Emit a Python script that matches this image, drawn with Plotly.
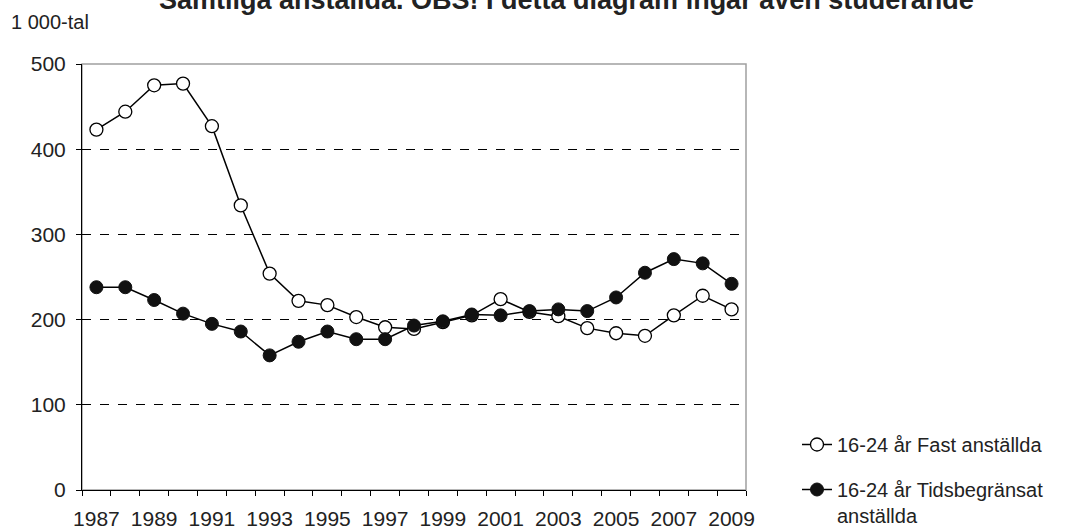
import plotly.graph_objects as go

years = list(range(1987, 2010))
fast = [423, 444, 475, 477, 427, 334, 254, 222, 217, 203, 191, 189, 197, 205, 224, 209, 204, 190, 184, 181, 205, 228, 212]
tids = [238, 238, 223, 207, 195, 186, 158, 174, 186, 177, 177, 193, 198, 206, 205, 210, 212, 210, 226, 255, 271, 266, 242]
tick_years = list(range(1987, 2010, 2))
y_ticks = [0, 100, 200, 300, 400, 500]

L, R, T, B = 82, 324, 64, 39
W, H = 1070, 529
pw, ph = W - L - R, H - T - B

fig = go.Figure()
fig.add_trace(go.Scatter(
    x=years, y=fast, mode="lines+markers", name="16-24 år Fast anställda", legendgroup="a",
    line=dict(color="black", width=1.5),
    marker=dict(symbol="circle", size=13, color="white", line=dict(color="black", width=1.3)),
))
fig.add_trace(go.Scatter(
    x=years, y=tids, mode="lines+markers", name="16-24 år Tidsbegränsat<br>anställda", legendgroup="b",
    line=dict(color="black", width=1.5),
    marker=dict(symbol="circle", size=13, color="#111111", line=dict(color="#111111", width=1)),
))

fig.add_shape(type="rect", xref="paper", yref="paper", x0=0, x1=1, y0=0, y1=1,
              line=dict(color="#a0a0a0", width=1.5), layer="below")

fig.update_layout(
    width=W, height=H,
    margin=dict(l=L, r=R, t=T, b=B, autoexpand=False),
    plot_bgcolor="white", paper_bgcolor="white",
    font=dict(family="Liberation Sans, Arial, sans-serif", size=20, color="#222222"),
    showlegend=True,
    legend=dict(x=(797 - L) / pw, y=(490 - 425) / ph, xanchor="left", yanchor="top",
                font=dict(size=20, color="#222222"), tracegroupgap=16, valign="top",
                bgcolor="rgba(0,0,0,0)"),
    xaxis=dict(range=[1986.5, 2009.5], tickvals=tick_years, ticktext=[str(y) for y in tick_years],
               ticks="", showgrid=False, zeroline=False, showline=True, linecolor="black", linewidth=1,
               tickfont=dict(size=21), ticklabelstandoff=10, automargin=False,
               minor=dict(tick0=1986.5, dtick=1, ticks="outside", ticklen=5, tickcolor="black", showgrid=False)),
    yaxis=dict(range=[0, 500], tickvals=y_ticks, ticks="outside", ticklen=5, tickcolor="black",
               showgrid=True, gridcolor="black", gridwidth=1, griddash="dash", automargin=False,
               zeroline=False, showline=True, linecolor="black", linewidth=1,
               tickfont=dict(size=21), ticklabelstandoff=6),
    annotations=[
        dict(text="<b>Samtliga anställda. OBS! I detta diagram ingår även studerande</b>",
             xref="paper", yref="paper", x=(566 - L) / pw, y=1 + T / ph,
             xanchor="center", yanchor="middle", showarrow=False,
             font=dict(size=27, color="#222222")),
        dict(text="1 000-tal", xref="paper", yref="paper", x=(9 - L) / pw, y=1 + (T - 22) / ph,
             xanchor="left", yanchor="middle", showarrow=False, font=dict(size=20, color="#222222")),
    ],
)

fig.write_html("out.html", config={"displayModeBar": False},
               post_script="document.body.style.margin='0px';")
